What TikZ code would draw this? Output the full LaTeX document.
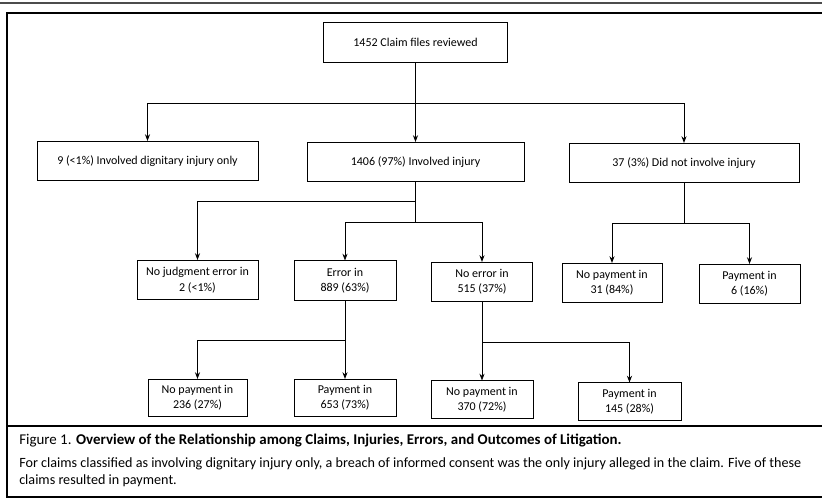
\documentclass[tikz,border=0pt]{standalone}
\usepackage{fontspec}
\setmainfont{Carlito}
\usetikzlibrary{arrows.meta}

\tikzset{
  box/.style={draw, line width=0.6pt, align=center, inner sep=2pt, minimum height=29.5pt, font=\fontsize{9}{11.5}\selectfont},
  lowbox/.style={box, minimum height=28pt},
  link/.style={line width=0.6pt},
  flow/.style={line width=0.6pt, -{Stealth[length=5pt,width=3.8pt]}},
  caption/.style={anchor=west, inner sep=0pt, font=\fontsize{10.6}{12.5}\selectfont},
}

\begin{document}
\begin{tikzpicture}[x=0.75pt,y=0.75pt,yscale=-1,xscale=1]

\useasboundingbox (0,0) rectangle (822,500);
\clip (0,0) rectangle (822,500);

\draw [line width=0.8pt, black!70] (0,3) -- (830,3) ;
\draw [line width=1.1pt] (830,13) -- (7,13) -- (7,497) -- (830,497) ;
\draw [line width=1.6pt] (7,426) -- (830,426) ;

\node [box, minimum width=138pt] (root) at (415.5,42.5) {1452 Claim files reviewed};

\node [box, minimum width=165.75pt] (dign) at (147.5,161) {9 (<1\%) Involved dignitary injury only};
\node [box, minimum width=162.75pt] (inj) at (415.5,162) {1406 (97\%) Involved injury};
\node [box, minimum width=172.5pt] (noinj) at (684,163) {37 (3\%) Did not involve injury};

\node [box, minimum width=90.75pt] (nojudg) at (197.5,280) {No judgment error in\\2 (<1\%)};
\node [box, minimum width=76.5pt] (err) at (345,280.5) {Error in\\889 (63\%)};
\node [box, minimum width=75.75pt] (noerr) at (482,282) {No error in\\515 (37\%)};
\node [box, minimum width=75pt] (nopay31) at (612,283) {No payment in\\31 (84\%)};
\node [box, minimum width=75.75pt] (pay6) at (749.5,284) {Payment in\\6 (16\%)};

\node [lowbox, minimum width=74.25pt] (nopay236) at (197.5,398) {No payment in\\236 (27\%)};
\node [lowbox, minimum width=76.5pt] (pay653) at (345,398) {Payment in\\653 (73\%)};
\node [lowbox, minimum width=76.5pt] (nopay370) at (482,399.5) {No payment in\\370 (72\%)};
\node [lowbox, minimum width=77.25pt] (pay145) at (629.5,401.5) {Payment in\\145 (28\%)};

\coordinate (j0) at (root.south |- 0,103);
\coordinate (j1) at (inj.south |- 0,201);
\coordinate (j2) at (inj.south |- 0,222);
\coordinate (j3) at (noinj.south |- 0,223);
\coordinate (j4) at (err.south |- 0,340);
\coordinate (j5) at (noerr.south |- 0,342);

\draw [link] (root) -- (j0) ;
\draw [flow] (j0) -| (dign) ;
\draw [flow] (j0) -- (inj) ;
\draw [flow] (j0) -| (noinj) ;

\draw [link] (inj) -- (j2) ;
\draw [flow] (j1) -| (nojudg) ;
\draw [flow] (j2) -| (err) ;
\draw [flow] (j2) -| (noerr) ;

\draw [link] (noinj) -- (j3) ;
\draw [flow] (j3) -| (nopay31) ;
\draw [flow] (j3) -| (pay6) ;

\draw [link] (err) -- (j4) ;
\draw [flow] (j4) -| (nopay236) ;
\draw [flow] (j4) -- (pay653) ;

\draw [link] (noerr) -- (j5) ;
\draw [flow] (j5) -- (nopay370) ;
\draw [flow] (j5) -| (pay145) ;

\node [caption, font=\fontsize{11.2}{13}\selectfont] (title) at (19,441) {Figure 1. \textbf{Overview of the Relationship among Claims, Injuries, Errors, and Outcomes of Litigation.}};
\node [caption] (note1) at (19,464) {For claims classified as involving dignitary injury only, a breach of informed consent was the only injury alleged in the claim. Five of these};
\node [caption] (note2) at (19,481) {claims resulted in payment.};

\end{tikzpicture}
\end{document}
